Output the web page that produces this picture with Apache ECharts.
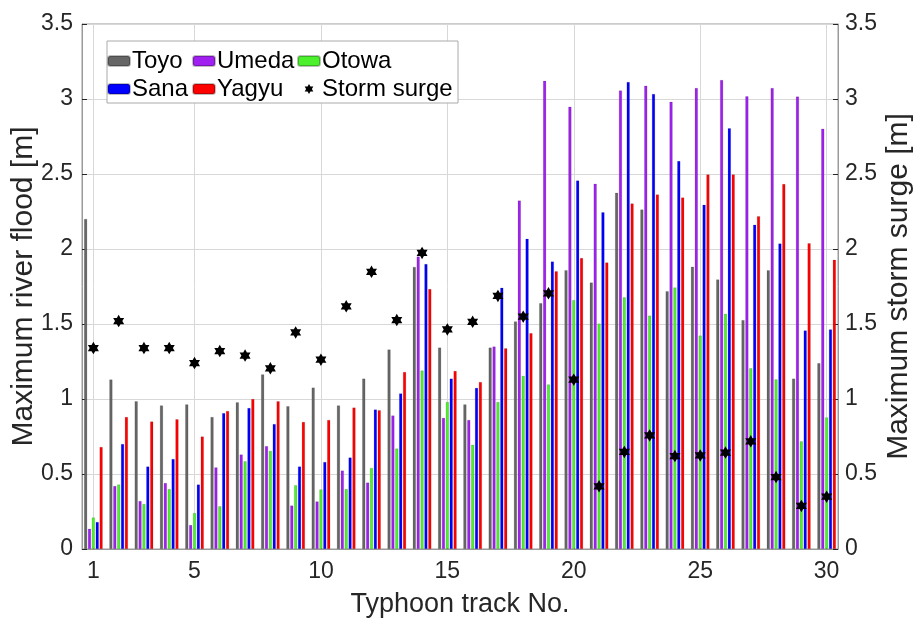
<!DOCTYPE html>
<html>
<head>
<meta charset="utf-8">
<script src="https://cdn.jsdelivr.net/npm/echarts@6/dist/echarts.min.js"></script>
<style>
  html, body { margin: 0; padding: 0; background: #fff; }
  #main { width: 915px; height: 619px; }
</style>
</head>
<body>
<div id="main"></div>
<script>
// typhoon track numbers 1..30
var tracks = [1, 2, 3, 4, 5, 6, 7, 8, 9, 10, 11, 12, 13, 14, 15,
  16, 17, 18, 19, 20, 21, 22, 23, 24, 25, 26, 27, 28, 29, 30];
var xTicks = [1, 5, 10, 15, 20, 25, 30];

// maximum river flood [m]
var toyo = [2.20, 1.13, 0.985, 0.957, 0.964, 0.88, 0.978, 1.164, 0.952, 1.076,
  0.957, 1.136, 1.33, 1.88, 1.343, 0.964, 1.343, 1.517, 1.639, 1.859,
  1.776, 2.375, 2.263, 1.719, 1.882, 1.797, 1.526, 1.859, 1.136, 1.239];
var umeda = [0.135, 0.42, 0.32, 0.44, 0.16, 0.544, 0.63, 0.686, 0.29, 0.317,
  0.523, 0.443, 0.89, 1.95, 0.874, 0.86, 1.35, 2.323, 3.121, 2.949,
  2.435, 3.057, 3.089, 2.981, 3.073, 3.126, 3.018, 3.073, 3.016, 2.802];
var otowa = [0.21, 0.43, 0.30, 0.40, 0.24, 0.285, 0.585, 0.654, 0.425, 0.397,
  0.40, 0.54, 0.67, 1.19, 0.98, 0.695, 0.98, 1.154, 1.097, 1.659,
  1.503, 1.678, 1.556, 1.744, 1.423, 1.568, 1.205, 1.131, 0.718, 0.877];
var sana = [0.18, 0.70, 0.55, 0.60, 0.43, 0.906, 0.94, 0.833, 0.55, 0.58,
  0.61, 0.93, 1.037, 1.90, 1.136, 1.074, 1.742, 2.068, 1.916, 2.456,
  2.245, 3.114, 3.034, 2.587, 2.295, 2.805, 2.162, 2.036, 1.457, 1.464];
var yagyu = [0.68, 0.88, 0.85, 0.865, 0.75, 0.92, 1.0, 0.985, 0.847, 0.86,
  0.943, 0.925, 1.18, 1.733, 1.187, 1.113, 1.338, 1.439, 1.852, 1.94,
  1.91, 2.304, 2.364, 2.343, 2.497, 2.497, 2.219, 2.433, 2.038, 1.928];

// maximum storm surge [m]
var stormSurge = [1.34, 1.52, 1.34, 1.34, 1.24, 1.32, 1.29, 1.205, 1.444, 1.262,
  1.618, 1.848, 1.526, 1.974, 1.464, 1.515, 1.687, 1.549, 1.705, 1.129,
  0.418, 0.647, 0.757, 0.62, 0.624, 0.643, 0.718, 0.48, 0.287, 0.349];

var font = '"Liberation Sans", Arial, Helvetica, sans-serif';
var textColor = '#262626';
var boxColor = '#9a9a9a';
var star = 'path://M10 0L12.885 5L18.66 5L15.77 10L18.66 15L12.885 15L10 20L7.115 15L1.34 15L4.23 10L1.34 5L7.115 5Z';

function pairs(values) {
  return tracks.map(function (t, i) { return [t, values[i]]; });
}

function barSeries(name, values, color) {
  return {
    name: name,
    type: 'bar',
    data: pairs(values),
    barWidth: 3.1,
    barGap: '25%',
    itemStyle: { color: color, borderColor: 'rgba(0,0,0,0.25)', borderWidth: 0.5 }
  };
}

var chart = echarts.init(document.getElementById('main'));

var legendBase = {
  orient: 'vertical',
  top: 43,
  itemWidth: 22,
  itemHeight: 10,
  itemGap: 2,
  symbolKeepAspect: true,
  selectedMode: false,
  textStyle: { fontFamily: font, fontSize: 24, color: '#000', lineHeight: 26, padding: [0, 0, 0, -3] }
};

var option = {
  animation: false,
  backgroundColor: '#fff',
  grid: {
    left: 82, right: 77, top: 24, bottom: 70,
    containLabel: false,
    outerBoundsMode: 'none',
    show: true, borderColor: boxColor, borderWidth: 1, backgroundColor: 'transparent'
  },
  legend: [
    Object.assign({}, legendBase, { left: 102, data: ['Toyo', 'Sana'] }),
    Object.assign({}, legendBase, { left: 187, data: ['Umeda', 'Yagyu'] }),
    Object.assign({}, legendBase, { left: 292, data: ['Otowa', 'Storm surge'] })
  ],
  graphic: [{
    type: 'rect',
    z: 3,
    shape: { x: 107, y: 41, width: 351, height: 62 },
    style: { fill: '#fff', stroke: '#aaa', lineWidth: 1 }
  }],
  xAxis: {
    type: 'value',
    min: 0.55,
    max: 30.45,
    name: 'Typhoon track No.',
    nameLocation: 'middle',
    nameGap: 42,
    nameMoveOverlap: false,
    nameTextStyle: { fontFamily: font, fontSize: 27, color: textColor },
    axisLine: { show: true, lineStyle: { color: boxColor } },
    axisTick: { show: true, inside: true, length: 5, customValues: xTicks, lineStyle: { color: textColor } },
    axisLabel: { customValues: xTicks, margin: 11, fontFamily: font, fontSize: 23, color: textColor },
    splitLine: { show: true, lineStyle: { color: '#d8d8d8', width: 1 } }
  },
  yAxis: [{
    type: 'value',
    min: 0, max: 3.5, interval: 0.5,
    name: 'Maximum river flood [m]',
    nameLocation: 'middle',
    nameRotate: 90,
    nameGap: 43,
    nameMoveOverlap: false,
    nameTextStyle: { fontFamily: font, fontSize: 30, color: textColor },
    axisLine: { show: true, lineStyle: { color: boxColor } },
    axisTick: { show: true, inside: true, length: 5, lineStyle: { color: textColor } },
    axisLabel: { margin: 9, fontFamily: font, fontSize: 23, color: textColor },
    splitLine: { show: true, lineStyle: { color: '#d8d8d8', width: 1 } }
  }, {
    type: 'value',
    position: 'right',
    min: 0, max: 3.5, interval: 0.5,
    name: 'Maximum storm surge [m]',
    nameLocation: 'middle',
    nameRotate: 90,
    nameGap: 46,
    nameMoveOverlap: false,
    nameTextStyle: { fontFamily: font, fontSize: 30, color: textColor },
    axisLine: { show: true, lineStyle: { color: boxColor } },
    axisTick: { show: true, inside: true, length: 5, lineStyle: { color: textColor } },
    axisLabel: { margin: 7, fontFamily: font, fontSize: 23, color: textColor },
    splitLine: { show: false }
  }],
  series: [
    barSeries('Toyo', toyo, '#666666'),
    barSeries('Umeda', umeda, '#a020f0'),
    barSeries('Otowa', otowa, '#4cf02c'),
    barSeries('Sana', sana, '#0000ff'),
    barSeries('Yagyu', yagyu, '#ff0000'),
    {
      name: 'Storm surge',
      type: 'scatter',
      yAxisIndex: 1,
      data: pairs(stormSurge),
      symbol: star,
      symbolSize: [11, 12.5],
      itemStyle: { color: '#000', opacity: 1 },
      z: 5
    }
  ]
};

chart.setOption(option);
</script>
</body>
</html>
